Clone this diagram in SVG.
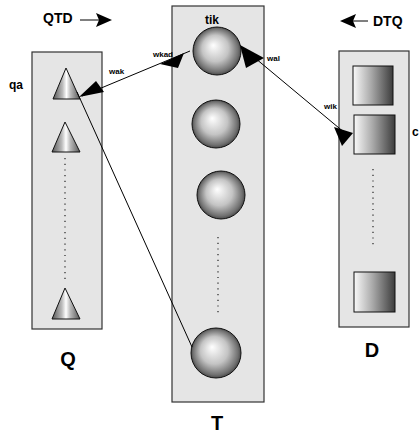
<svg xmlns="http://www.w3.org/2000/svg" width="420" height="434" viewBox="0 0 420 434">
<style>
.box{fill:#e5e5e5;stroke:#333;stroke-width:1.2}
.sph{fill:url(#gs);stroke:#111;stroke-width:1}
.tri{fill:url(#gt);stroke:#111;stroke-width:1}
.sq{fill:url(#gq);stroke:#111;stroke-width:1}
.dot{stroke:#222;stroke-width:1.2;stroke-dasharray:1.2 4.5;fill:none}
.ln{stroke:#000;stroke-width:1;fill:none}
.ah{fill:#000}
text{font-family:"Liberation Sans",Arial,sans-serif;font-weight:bold;fill:#000}
.big{font-size:20px}
.mid{font-size:14px}
.sm{font-size:12px}
.xs{font-size:8px}
</style>
<defs>
<radialGradient id="gs" cx="0.5" cy="0.5" r="0.5" fx="0.42" fy="0.38">
<stop offset="0" stop-color="#ffffff"/>
<stop offset="0.55" stop-color="#c4c4c4"/>
<stop offset="0.9" stop-color="#707070"/>
<stop offset="1" stop-color="#4a4a4a"/>
</radialGradient>
<linearGradient id="gt" x1="0" y1="0" x2="1" y2="0">
<stop offset="0" stop-color="#555"/>
<stop offset="0.35" stop-color="#bbb"/>
<stop offset="0.5" stop-color="#fff"/>
<stop offset="0.65" stop-color="#bbb"/>
<stop offset="1" stop-color="#555"/>
</linearGradient>
<linearGradient id="gq" x1="0" y1="0" x2="1" y2="0">
<stop offset="0" stop-color="#fafafa"/>
<stop offset="0.45" stop-color="#aaa"/>
<stop offset="1" stop-color="#3c3c3c"/>
</linearGradient>
</defs>

<g id="title-qtd">
<text class="mid" x="43" y="23">QTD</text>
<line class="ln" x1="80" y1="20" x2="100" y2="20" stroke-width="2"/>
<polygon class="ah" points="112,20 96,13 99,20 96,27"/>
</g>
<g id="title-dtq">
<text class="mid" x="373" y="26">DTQ</text>
<line class="ln" x1="368" y1="21" x2="352" y2="21" stroke-width="2"/>
<polygon class="ah" points="340,21 356,14 353,21 356,28"/>
</g>

<g id="node-Q">
<rect class="box" x="32" y="52" width="70" height="277"/>
<polygon class="tri" points="66,68 53,99 80,99"/>
<polygon class="tri" points="65,122 52,152 80,152"/>
<line class="dot" x1="65" y1="158" x2="65" y2="282"/>
<polygon class="tri" points="65,288 52,319 80,319"/>
<text class="sm" x="9" y="89">qa</text>
<text class="big" x="68" y="366" text-anchor="middle">Q</text>
</g>

<g id="node-T">
<rect class="box" x="172" y="6" width="92" height="396"/>
<circle class="sph" cx="217" cy="51" r="24"/>
<circle class="sph" cx="216" cy="124" r="24"/>
<circle class="sph" cx="221" cy="195" r="24"/>
<line class="dot" x1="218" y1="237" x2="218" y2="316"/>
<circle class="sph" cx="216" cy="353" r="25"/>
<text class="sm" x="212" y="24" text-anchor="middle">tik</text>
<text class="big" x="217" y="430" text-anchor="middle">T</text>
</g>

<g id="node-D">
<rect class="box" x="339" y="51" width="70" height="276"/>
<rect class="sq" x="353" y="66" width="40" height="39"/>
<rect class="sq" x="354" y="115" width="41" height="39"/>
<line class="dot" x1="373" y1="169" x2="373" y2="248"/>
<rect class="sq" x="354" y="272" width="41" height="40"/>
<text class="sm" x="412" y="136">c</text>
<text class="big" x="372" y="357" text-anchor="middle">D</text>
</g>

<g id="connectors">
<line class="ln" x1="82" y1="96" x2="190" y2="51"/>
<polygon class="ah" points="79,97 96,81 104,92"/>
<polygon class="ah" points="184,53 160,64 178,68"/>
<text class="xs" x="109" y="74">wak</text>
<text class="xs" x="153" y="57">wkad</text>
<line class="ln" x1="77" y1="92" x2="192" y2="347"/>
<line class="ln" x1="243" y1="48" x2="345" y2="133"/>
<polygon class="ah" points="240,45 246,68 264,58"/>
<polygon class="ah" points="334,127 353,133 342,146"/>
<text class="xs" x="267" y="61">wal</text>
<text class="xs" x="324" y="109">wik</text>
</g>
</svg>
